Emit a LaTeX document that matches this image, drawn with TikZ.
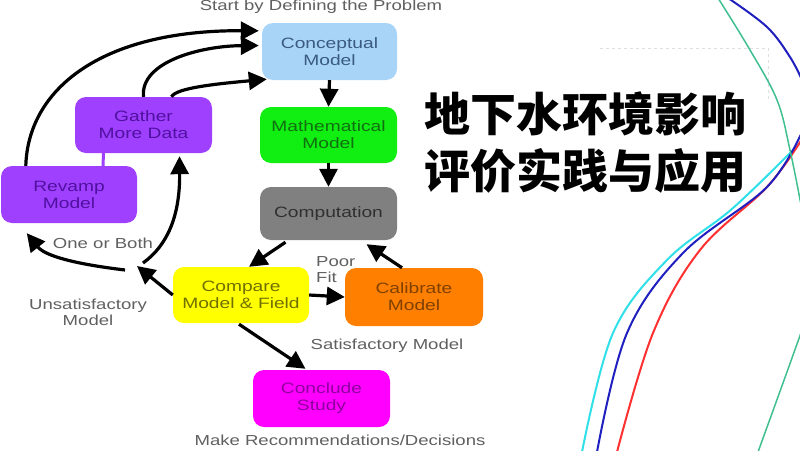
\documentclass[tikz,border=0pt]{standalone}
\usepackage{fontspec}
\setmainfont{Liberation Sans}
\newfontfamily\diagfont[FakeStretch=1.28]{Liberation Sans}
\newfontfamily\cjkfont{Noto Sans CJK SC}
\usetikzlibrary{arrows.meta,calc}
\definecolor{cblue}{HTML}{A8D4F8}
\definecolor{cgreen}{HTML}{11EE11}
\definecolor{cgray}{HTML}{808080}
\definecolor{cyel}{HTML}{FFFF00}
\definecolor{corange}{HTML}{FF8000}
\definecolor{cmag}{HTML}{FF00FF}
\definecolor{cpurp}{HTML}{A040FF}
\definecolor{labelgray}{HTML}{606060}
\definecolor{tblue}{HTML}{3A5A80}
\definecolor{tgreen}{HTML}{107010}
\definecolor{tgray}{HTML}{303030}
\definecolor{tolive}{HTML}{707000}
\definecolor{tbrown}{HTML}{804000}
\definecolor{tmag}{HTML}{9000A0}
\definecolor{tpurp}{HTML}{5010A0}
\definecolor{lcyan}{HTML}{30E0E8}
\definecolor{lblue}{HTML}{2020C0}
\definecolor{lred}{HTML}{FF3030}
\definecolor{lgreen}{HTML}{40C090}
\tikzset{
  box/.style={rectangle, rounded corners=11pt, inner sep=0pt, align=center,
    font=\diagfont\fontsize{15}{17}\selectfont},
  arr/.style={line width=3.2pt, -{Triangle[length=18pt,width=18pt]}},
  lbl/.style={font=\diagfont\fontsize{14.5}{16}\selectfont, text=labelgray, align=center, inner sep=0pt},
  deco/.style={line width=2pt}
}
\begin{document}
\begin{tikzpicture}[x=1pt,y=-1pt]
\useasboundingbox[fill=white] (0,0) rectangle (800,450);
% nodes
\node[box, fill=cblue, text=tblue, minimum width=135pt, minimum height=57pt] (concept) at (329.5,51.5) {Conceptual\\Model};
\node[box, fill=cgreen, text=tgreen, minimum width=137pt, minimum height=56pt] (math) at (328.5,135) {Mathematical\\Model};
\node[box, fill=cgray, text=tgray, minimum width=137pt, minimum height=53pt] (comp) at (328.5,213.5) {Computation};
\node[box, fill=cyel, text=tolive, minimum width=136pt, minimum height=56pt] (compare) at (241,295) {Compare\\Model \& Field};
\node[box, fill=corange, text=tbrown, minimum width=138pt, minimum height=58pt] (calib) at (414,297) {Calibrate\\Model};
\node[box, fill=cmag, text=tmag, minimum width=137pt, minimum height=57pt] (conclude) at (321.5,398.5) {Conclude\\Study};
\node[box, fill=cpurp, text=tpurp, minimum width=137pt, minimum height=56pt] (gather) at (143.5,125) {Gather\\More Data};
\node[box, fill=cpurp, text=tpurp, minimum width=136pt, minimum height=57pt] (revamp) at (69,194.5) {Revamp\\Model};
\draw[cpurp, line width=3pt] ($(gather.south)+(-40,0)$) -- ($(revamp.north)+(34,0)$);
% labels
\node[lbl, anchor=base] (start) at (321,10) {Start by Defining the Problem};
\node[lbl, anchor=base] (oneboth) at (103,248) {One or Both};
\node[lbl, align=left, anchor=north west] (poor) at (316,256) {Poor\\Fit};
\node[lbl] (unsat) at (88,312) {Unsatisfactory\\Model};
\node[lbl] (sat) at (387,346) {Satisfactory Model};
\node[lbl, anchor=base] (make) at (340,445) {Make Recommendations/Decisions};
\coordinate (J) at (137,266);
% connectors
\draw[arr] (concept.south) -- (math.north);
\draw[arr] (math.south) -- (comp.north);
\draw[arr] ($(comp.south)+(-43,2)$) -- ($(compare.north)+(8,0)$);
\draw[arr] ($(calib.north)+(-12,0)$) -- ($(comp.south)+(38,4)$);
\draw[arr] (compare.east) -- (calib.west);
\draw[arr] ($(compare.south)+(-2,1)$) -- ($(conclude.north)+(-16,-1)$);
\draw[arr] (compare.west) -- (J);
\draw[arr] ($(J)+(-12,4)$) .. controls (75,264) and (45,256) .. ($(revamp.south west)+(26,10)$);
\draw[arr] ($(J)+(6,-3)$) .. controls (168,245) and (180,215) .. ($(gather.south)+(36,3)$);
\draw[arr] ($(gather.north)+(0,0)$) .. controls (140,62) and (200,46) .. ($(concept.west)+(-3,-6)$);
\draw[arr] ($(gather.north)+(28,0)$) .. controls (176,88) and (215,84) .. ($(concept.south west)+(5,-1)$);
\draw[arr] ($(revamp.north west)+(25,0)$) .. controls (28,90) and (100,30) .. ($(concept.north west)+(-3,8)$);
% right decorations
\draw[gray!25, dashed, line width=0.6pt] (600,48) -- (768,48) -- (768,100);
\draw[deco, lcyan] plot[smooth, tension=0.6] coordinates {(582,452) (613,333) (667,260) (733,208) (802,141)};
\draw[deco, lred] plot[smooth, tension=0.6] coordinates {(617,452) (653,333) (700,250) (767,187) (802,139)};
\draw[deco, lblue] plot[smooth, tension=0.6] coordinates {(597,452) (627,333) (683,253) (767,187) (802,132)};
\draw[deco, lblue] plot[smooth, tension=0.6] coordinates {(728,-2) (767,27) (790,57) (802,80)};
\draw[deco, lgreen, line width=1.5pt] plot[smooth, tension=0.6] coordinates {(718,-2) (750,50) (777,100) (790,150) (802,210)};
\draw[deco, lgreen, line width=1.5pt] plot[smooth, tension=0.6] coordinates {(758,452) (783,383) (802,330)};
% title
\node[font=\cjkfont\bfseries\fontsize{46}{57}\selectfont, align=left, inner sep=0pt] (title) at (585,143) {地下水环境影响\\评价实践与应用};
\end{tikzpicture}
\end{document}
